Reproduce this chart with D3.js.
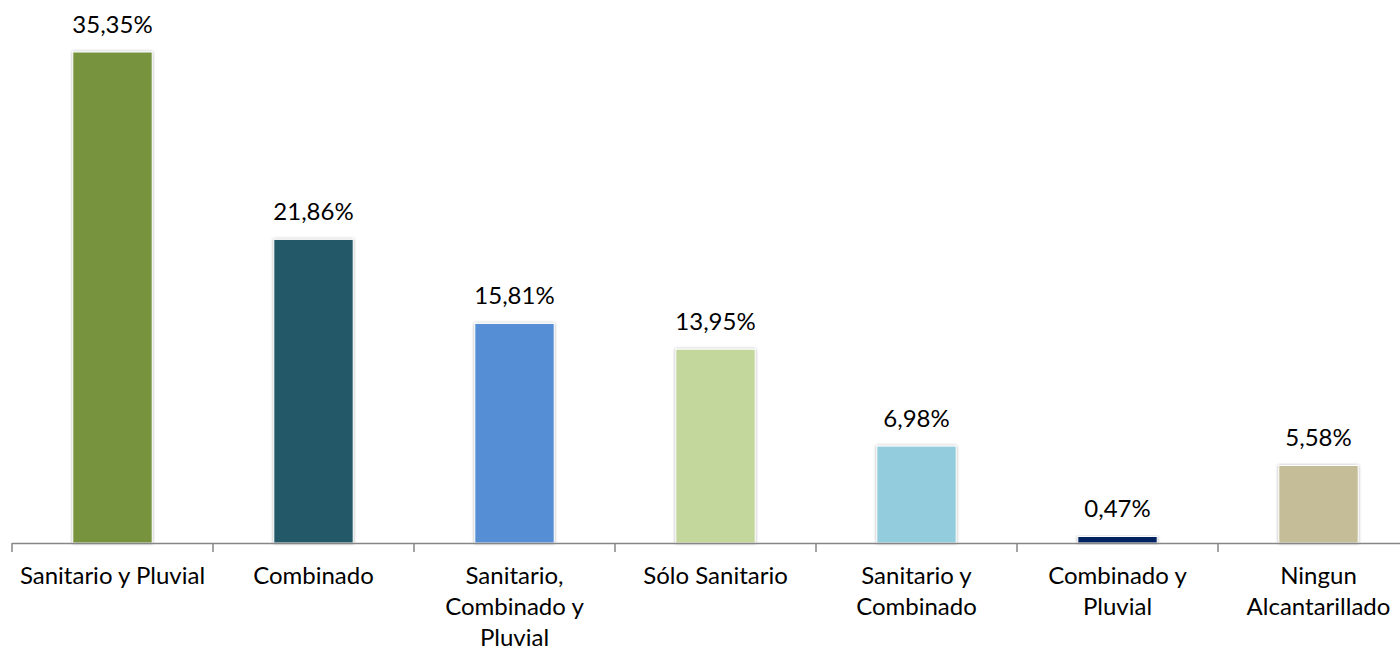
<!DOCTYPE html>
<meta charset="utf-8">
<style>
body {
  margin: 0;
  background: #fff;
  font-family: Lato, "Open Sans", sans-serif;
}
.axis path, .axis line {
  stroke: #868686;
  stroke-width: 1.5;
}
.label, .tick-label {
  fill: #000;
  font-size: 24px;
}
</style>
<body>
<script src="https://cdn.jsdelivr.net/npm/d3@7"></script>
<script>

var width = 1400,
    height = 651;

var categories = ["Sanitario y Pluvial", "Combinado", "Sanitario, Combinado y Pluvial", "Sólo Sanitario",
                  "Sanitario y Combinado", "Combinado y Pluvial", "Ningun Alcantarillado"];
// how each tick label is broken into lines
var tickLines = [["Sanitario y Pluvial"], ["Combinado"], ["Sanitario,", "Combinado y", "Pluvial"], ["Sólo Sanitario"],
                 ["Sanitario y", "Combinado"], ["Combinado y", "Pluvial"], ["Ningun", "Alcantarillado"]];
var values = [35.35, 21.86, 15.81, 13.95, 6.98, 0.47, 5.58];
var colors = ["#77933c", "#215968", "#558ed5", "#c3d69b", "#93cddd", "#002060", "#c4bd97"];

var margin = {top: 52, right: -19, bottom: 108, left: 12};

var x = d3.scaleBand()
    .domain(categories)
    .range([margin.left, width - margin.right])
    .paddingInner(0.605)
    .paddingOuter(0.3025);

var y = d3.scaleLinear()
    .domain([0, 35.35])
    .range([height - margin.bottom, margin.top]);

var svg = d3.select("body").append("svg")
    .attr("width", width)
    .attr("height", height);

var defs = svg.append("defs");
defs.append("filter")
    .attr("id", "shadow")
    .attr("x", "-20%").attr("y", "-20%")
    .attr("width", "140%").attr("height", "140%")
  .append("feDropShadow")
    .attr("dx", 0).attr("dy", 0)
    .attr("stdDeviation", 1.6)
    .attr("flood-color", "#000")
    .attr("flood-opacity", 0.35);

svg.selectAll(".bar")
    .data(values)
  .enter().append("rect")
    .attr("class", "bar")
    .attr("x", function(d, i) { return x(categories[i]); })
    .attr("y", function(d) { return y(d); })
    .attr("width", x.bandwidth())
    .attr("height", function(d) { return y(0) - y(d); })
    .style("fill", function(d, i) { return colors[i]; })
    .style("stroke", "#fff")
    .style("stroke-width", 1)
    .attr("filter", "url(#shadow)");

svg.selectAll(".label")
    .data(values)
  .enter().append("text")
    .attr("class", "label")
    .attr("text-anchor", "middle")
    .attr("x", function(d, i) { return x(categories[i]) + x.bandwidth() / 2; })
    .attr("y", function(d) { return y(d) - 19; })
    .text(function(d) { return d.toFixed(2).replace(".", ",") + "%"; });

// category axis: ticks sit on the boundaries between categories
var step = x.step();
var boundaries = d3.range(categories.length + 1).map(function(i) { return margin.left + i * step; });

var axis = svg.append("g").attr("class", "axis");
axis.append("line")
    .attr("x1", boundaries[0])
    .attr("x2", boundaries[boundaries.length - 1])
    .attr("y1", y(0) + 0.5)
    .attr("y2", y(0) + 0.5);
axis.selectAll(".tick")
    .data(boundaries)
  .enter().append("line")
    .attr("class", "tick")
    .attr("x1", function(d) { return d; })
    .attr("x2", function(d) { return d; })
    .attr("y1", y(0))
    .attr("y2", y(0) + 9);

var tl = svg.selectAll(".tick-label")
    .data(tickLines)
  .enter().append("text")
    .attr("class", "tick-label")
    .attr("text-anchor", "middle")
    .attr("transform", function(d, i) {
      return "translate(" + (x(categories[i]) + x.bandwidth() / 2) + "," + (y(0) + 41) + ")";
    });

tl.selectAll("tspan")
    .data(function(d) { return d; })
  .enter().append("tspan")
    .attr("x", 0)
    .attr("dy", function(d, i) { return i === 0 ? 0 : 31; })
    .text(function(d) { return d; });

</script>
